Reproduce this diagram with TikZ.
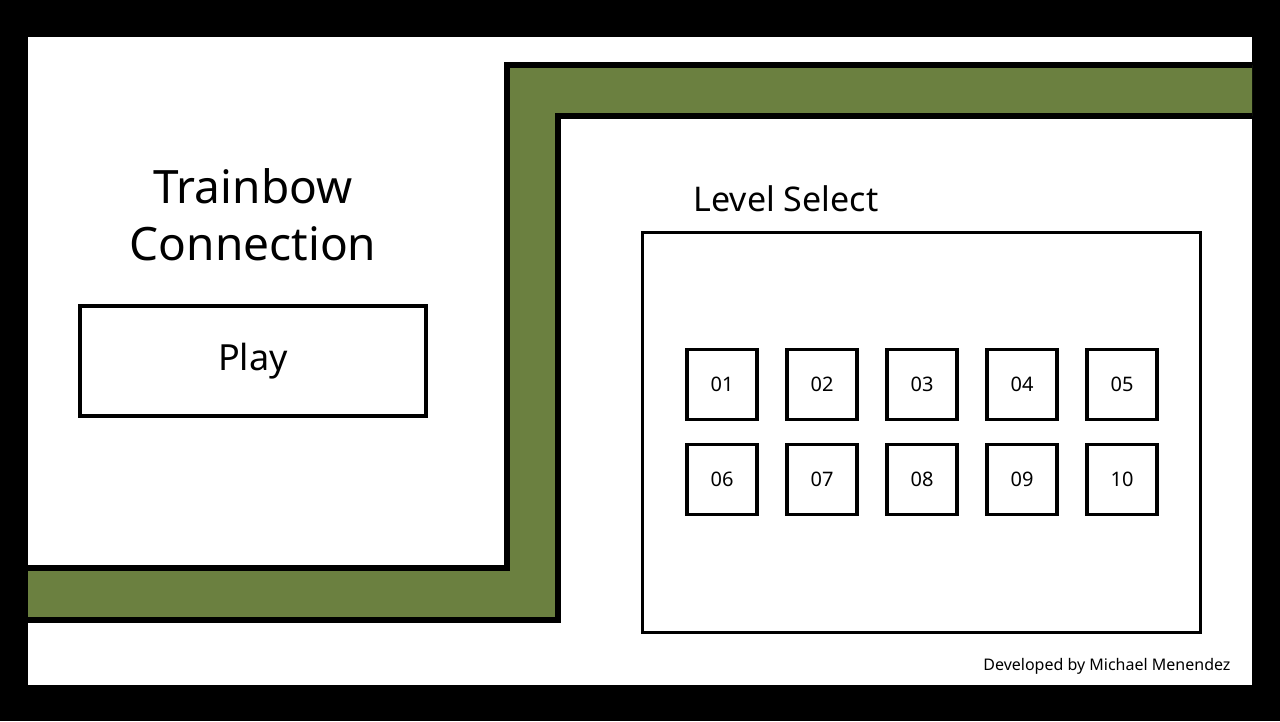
\documentclass[tikz,border=0pt]{standalone}
\usepackage{fontspec}
\setmainfont{Noto Sans}
\definecolor{trackgreen}{rgb}{0.42, 0.50, 0.25}
\tikzset{
  box/.style={draw=black, line width=3.5pt, inner sep=0pt},
  lvl/.style={box, minimum width=70pt, minimum height=70pt, font=\fontsize{20}{24}\selectfont},
}
\begin{document}
\begin{tikzpicture}[x=1pt,y=1pt,yscale=-1,xscale=1]
		% Black frame and white screen
		\fill[black] (0,0) rectangle (1280,721);
		\fill[white] (28,37) rectangle (1252,685);

		% The green track
		\fill[trackgreen] (28,568) -- (507,568) -- (507,65) -- (1252,65) -- (1252,116) -- (558,116) -- (558,620) -- (28,620) -- cycle;
		\draw[black, line width=6pt] (28,568) -- (507,568) -- (507,65) -- (1252,65);
		\draw[black, line width=6pt] (28,620) -- (558,620) -- (558,116) -- (1252,116);

		% Title and play button
		\node[align=center, font=\fontsize{46}{57}\selectfont] (title) at (253,215) {Trainbow\\Connection};
		\node[box, minimum width=346pt, minimum height=110pt, font=\fontsize{36}{40}\selectfont] (play) at (253,361) {Play};

		% Level select panel
		\node[anchor=west, font=\fontsize{34}{40}\selectfont] (lvltitle) at (690,199) {Level Select};
		\node[box, minimum width=558pt, minimum height=400pt] (panel) at (921.5,432.5) {};
		\foreach \i in {1,...,5} {
			\node[lvl] (l0\i) at ({622+100*\i},384.5) {0\i};
		}
		\foreach \i/\t in {1/06,2/07,3/08,4/09,5/10} {
			\node[lvl] (l\t) at ({622+100*\i},479.5) {\t};
		}

		% Credits
		\node[anchor=east, font=\fontsize{16}{19}\selectfont] (credit) at (1234,666) {Developed by Michael Menendez};
	\end{tikzpicture}
\end{document}
